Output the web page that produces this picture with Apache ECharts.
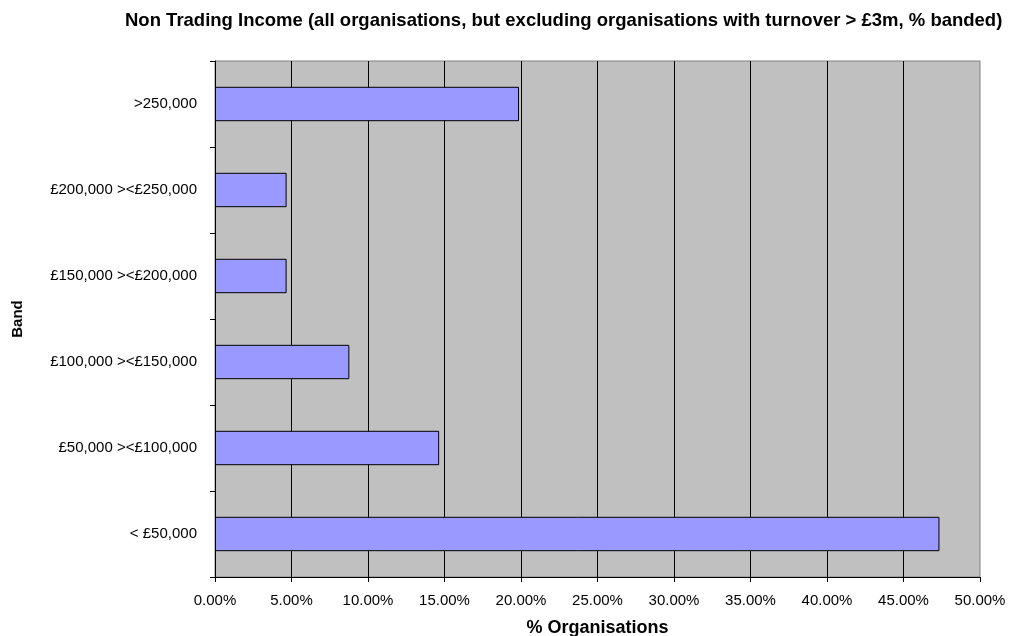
<!DOCTYPE html>
<html>
<head>
<meta charset="utf-8">
<script src="https://cdn.jsdelivr.net/npm/echarts@6/dist/echarts.min.js"></script>
<style>
  html, body { margin: 0; padding: 0; background: #fff; }
  #chart { width: 1012px; height: 636px; }
</style>
</head>
<body>
<div id="chart"></div>
<script>
// Income bands, bottom to top
const bands = [
  '< £50,000',
  '£50,000 ><£100,000',
  '£100,000 ><£150,000',
  '£150,000 ><£200,000',
  '£200,000 ><£250,000',
  '>250,000'
];
// Share of organisations in each band (%)
const shares = [47.35, 14.65, 8.78, 4.68, 4.68, 19.87];

const FONT = '"Liberation Sans", Arial, sans-serif';

const chart = echarts.init(document.getElementById('chart'), null, { renderer: 'canvas' });

chart.setOption({
  animation: false,
  backgroundColor: '#ffffff',
  title: {
    text: 'Non Trading Income (all organisations, but excluding organisations with turnover > £3m, % banded)',
    left: 120,
    top: 6,
    textStyle: {
      fontFamily: FONT,
      fontWeight: 'bold',
      fontSize: 18.5,
      color: '#000'
    }
  },
  grid: {
    left: 215,
    right: 32,
    top: 61,
    bottom: 59,
    outerBoundsMode: 'none',
    containLabel: false,
    show: true,
    backgroundColor: '#C0C0C0',
    borderColor: '#808080',
    borderWidth: 1
  },
  xAxis: {
    type: 'value',
    min: 0,
    max: 50,
    interval: 5,
    name: '% Organisations',
    nameLocation: 'middle',
    nameGap: 42,
    nameTextStyle: {
      fontFamily: FONT,
      fontWeight: 'bold',
      fontSize: 18,
      color: '#000'
    },
    axisLine: { show: true, lineStyle: { color: '#000', width: 1 } },
    axisTick: { show: true, length: 5, lineStyle: { color: '#000' } },
    axisLabel: {
      formatter: v => v.toFixed(2) + '%',
      fontFamily: FONT,
      fontSize: 15,
      color: '#000',
      margin: 16
    },
    splitLine: {
      show: true,
      showMinLine: false,
      showMaxLine: false,
      lineStyle: { color: '#000', width: 1 }
    }
  },
  yAxis: {
    type: 'category',
    data: bands,
    name: 'Band',
    nameLocation: 'middle',
    nameGap: 190,
    nameRotate: 90,
    nameTextStyle: {
      fontFamily: FONT,
      fontWeight: 'bold',
      fontSize: 15,
      color: '#000'
    },
    axisLine: { show: true, lineStyle: { color: '#000', width: 1 } },
    axisTick: { show: true, length: 5, alignWithLabel: false, lineStyle: { color: '#000' } },
    axisLabel: {
      fontFamily: FONT,
      fontSize: 15,
      color: '#000',
      margin: 18
    },
    splitLine: { show: false }
  },
  series: [{
    type: 'bar',
    data: shares,
    barWidth: '40%',
    itemStyle: {
      color: '#9999FF',
      borderColor: '#000',
      borderWidth: 1
    }
  }]
});
</script>
</body>
</html>
